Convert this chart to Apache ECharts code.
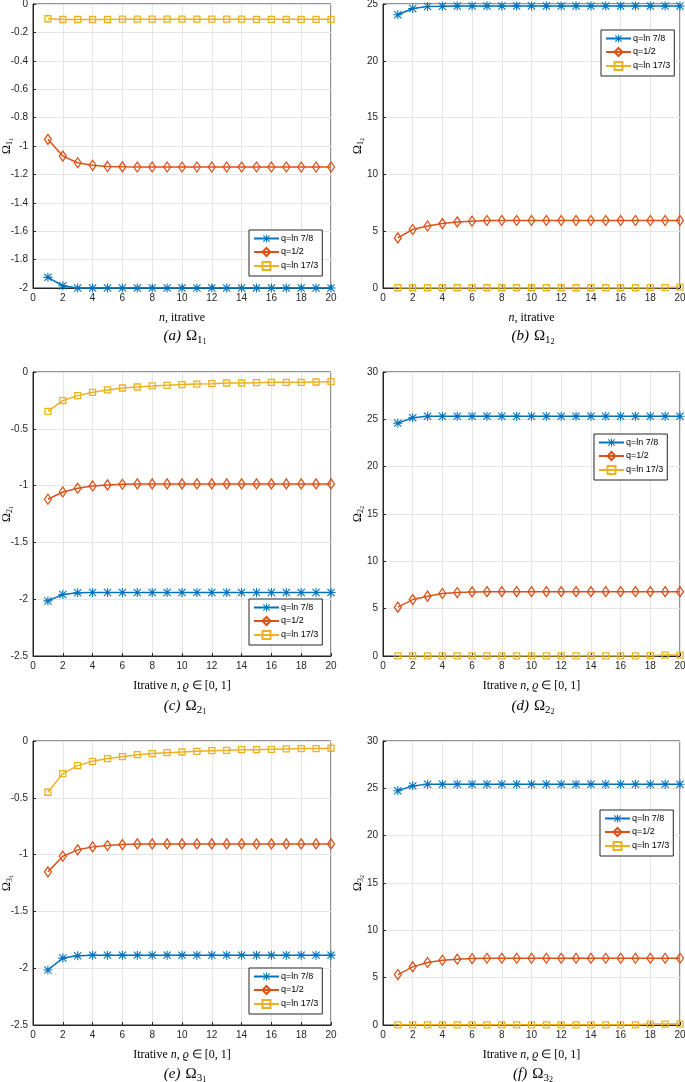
<!DOCTYPE html>
<html><head><meta charset="utf-8">
<script src="https://cdn.jsdelivr.net/npm/echarts@6/dist/echarts.min.js"></script>
<style>html,body{margin:0;padding:0;background:#fff}#c{width:685px;height:1082px}</style>
</head><body><div id="c"></div>
<script>
const iterations = [1,2,3,4,5,6,7,8,9,10,11,12,13,14,15,16,17,18,19,20];
const seriesNames = ['q=ln 7/8','q=1/2','q=ln 17/3'];

// (a) Omega_{1_1}
const a_ln78  = [-1.925,-1.984,-2,-2,-2,-2,-2,-2,-2,-2,-2,-2,-2,-2,-2,-2,-2,-2,-2,-2];
const a_half  = [-0.953,-1.071,-1.118,-1.136,-1.144,-1.147,-1.148,-1.148,-1.148,-1.148,-1.148,-1.148,-1.148,-1.148,-1.148,-1.148,-1.148,-1.148,-1.148,-1.148];
const a_ln173 = [-0.104,-0.109,-0.109,-0.109,-0.109,-0.107,-0.107,-0.107,-0.107,-0.107,-0.107,-0.107,-0.107,-0.107,-0.108,-0.108,-0.108,-0.108,-0.108,-0.108];
// (b) Omega_{1_2}
const b_ln78  = [24.05,24.6,24.78,24.8,24.83,24.83,24.83,24.83,24.83,24.83,24.83,24.83,24.83,24.83,24.83,24.83,24.83,24.83,24.83,24.83];
const b_half  = [4.41,5.15,5.46,5.67,5.82,5.88,5.94,5.94,5.94,5.94,5.94,5.94,5.94,5.94,5.94,5.94,5.94,5.94,5.94,5.94];
const b_ln173 = [0.02,0.02,0.02,0.02,0.02,0.02,0.02,0.02,0.02,0.02,0.02,0.02,0.02,0.02,0.02,0.02,0.02,0.03,0.04,0.07];
// (c) Omega_{2_1}
const c_ln78  = [-2.015,-1.959,-1.944,-1.941,-1.941,-1.941,-1.941,-1.941,-1.941,-1.941,-1.941,-1.941,-1.941,-1.941,-1.941,-1.941,-1.941,-1.941,-1.941,-1.941];
const c_half  = [-1.12,-1.056,-1.023,-1.003,-0.994,-0.988,-0.985,-0.985,-0.985,-0.985,-0.985,-0.985,-0.985,-0.985,-0.985,-0.985,-0.985,-0.985,-0.985,-0.985];
const c_ln173 = [-0.346,-0.252,-0.208,-0.179,-0.158,-0.141,-0.132,-0.123,-0.117,-0.111,-0.106,-0.103,-0.097,-0.097,-0.094,-0.091,-0.091,-0.091,-0.088,-0.085];
// (d) Omega_{2_2}
const d_ln78  = [24.6,25.16,25.33,25.33,25.33,25.33,25.33,25.33,25.33,25.33,25.33,25.33,25.33,25.33,25.33,25.33,25.33,25.33,25.33,25.33];
const d_half  = [5.16,5.96,6.32,6.6,6.7,6.77,6.8,6.8,6.8,6.8,6.8,6.8,6.8,6.8,6.8,6.8,6.8,6.8,6.8,6.8];
const d_ln173 = [0.02,0.02,0.02,0.02,0.02,0.02,0.02,0.02,0.02,0.02,0.02,0.02,0.02,0.02,0.02,0.02,0.02,0.03,0.1,0.1];
// (e) Omega_{3_1}
const e_ln78  = [-2.016,-1.911,-1.89,-1.885,-1.885,-1.885,-1.885,-1.885,-1.885,-1.885,-1.885,-1.885,-1.885,-1.885,-1.885,-1.885,-1.885,-1.885,-1.885,-1.885];
const e_half  = [-1.152,-1.014,-0.958,-0.932,-0.92,-0.912,-0.906,-0.906,-0.906,-0.906,-0.906,-0.906,-0.906,-0.906,-0.906,-0.906,-0.906,-0.906,-0.906,-0.906];
const e_ln173 = [-0.451,-0.287,-0.217,-0.179,-0.155,-0.138,-0.12,-0.111,-0.103,-0.097,-0.091,-0.085,-0.082,-0.076,-0.076,-0.073,-0.07,-0.067,-0.067,-0.064];
// (f) Omega_{3_2}
const f_ln78  = [24.74,25.26,25.44,25.44,25.44,25.44,25.44,25.44,25.44,25.44,25.44,25.44,25.44,25.44,25.44,25.44,25.44,25.44,25.44,25.44];
const f_half  = [5.33,6.14,6.6,6.84,6.95,7.02,7.05,7.05,7.05,7.05,7.05,7.05,7.05,7.05,7.05,7.05,7.05,7.05,7.05,7.05];
const f_ln173 = [0.02,0.02,0.02,0.02,0.02,0.02,0.02,0.02,0.02,0.02,0.02,0.02,0.02,0.02,0.02,0.02,0.02,0.1,0.1,0.1];

const xTicks = {min:0, max:20, interval:2};

const panels = [
  {tag:'a', i:'1', j:'1', data:[a_ln78,a_half,a_ln173], y:{min:-2,max:0,interval:0.2}, xname:'n1'},
  {tag:'b', i:'1', j:'2', data:[b_ln78,b_half,b_ln173], y:{min:0,max:25,interval:5}, xname:'n1'},
  {tag:'c', i:'2', j:'1', data:[c_ln78,c_half,c_ln173], y:{min:-2.5,max:0,interval:0.5}, xname:'n2'},
  {tag:'d', i:'2', j:'2', data:[d_ln78,d_half,d_ln173], y:{min:0,max:30,interval:5}, xname:'n2'},
  {tag:'e', i:'3', j:'1', data:[e_ln78,e_half,e_ln173], y:{min:-2.5,max:0,interval:0.5}, xname:'n2'},
  {tag:'f', i:'3', j:'2', data:[f_ln78,f_half,f_ln173], y:{min:0,max:30,interval:5}, xname:'n2'}
];

// layout (pixels)
const colLeft = [33, 383], colRight = [354, 5];
const rowTop = [4, 372, 741], plotH = 284;
const yNameGap = [19, 18];
const legendPos = {
  a:{left:249,top:230}, b:{left:601,top:30}, c:{left:249,top:599},
  d:{left:594,top:434}, e:{left:249,top:968}, f:{left:600,top:810}
};
const captionY = [337, 707, 1075];
const captionX = [180, 528];

const colors = ['#0072BD','#D95319','#EDB120'];
const asterisk = 'path://M4.4,0L5.6,0L5.6,10L4.4,10Z M0,4.4L10,4.4L10,5.6L0,5.6Z M1.42,0.58L9.42,8.58L8.58,9.42L0.58,1.42Z M0.58,8.58L8.58,0.58L9.42,1.42L1.42,9.42Z';
const symbols = [asterisk, 'diamond', 'rect'];
const symSizes = [9, [7,10], 6];

const serif = 'Liberation Serif';
const sans = 'Liberation Sans';
const tickColor = '#262626';

const richSub = {
  O:{fontFamily:serif,fontSize:12,color:'#000'},
  s:{fontFamily:serif,fontSize:8,color:'#000',verticalAlign:'bottom',padding:[6,0,0,0]},
  ss:{fontFamily:serif,fontSize:6,color:'#000',verticalAlign:'bottom',padding:[9,0,0,0]},
  it:{fontFamily:serif,fontStyle:'italic',fontSize:12,color:'#000'},
  r:{fontFamily:serif,fontSize:12,color:'#000'}
};
const richCap = {
  it:{fontFamily:serif,fontStyle:'italic',fontWeight:'normal',fontSize:15,color:'#000'},
  O:{fontFamily:serif,fontWeight:'normal',fontSize:15,color:'#000'},
  s:{fontFamily:serif,fontWeight:'normal',fontSize:11,color:'#000',verticalAlign:'bottom',padding:[7,0,0,0]},
  ss:{fontFamily:serif,fontWeight:'normal',fontSize:8,color:'#000',verticalAlign:'bottom',padding:[11,0,0,0]}
};

const option = {
  animation:false,
  backgroundColor:'#fff',
  grid:[], xAxis:[], yAxis:[], series:[], legend:[], title:[]
};

panels.forEach((p, k) => {
  const col = k % 2, row = Math.floor(k / 2);
  option.grid.push({
    left: colLeft[col], right: colRight[col], top: rowTop[row], height: plotH,
    containLabel:false, outerBoundsMode:'none',
    show:true, borderColor:'#262626', borderWidth:1, backgroundColor:'#fff'
  });
  const xname = p.xname === 'n1'
    ? '{it|n}{r|, itrative}'
    : '{r|Itrative }{it|n}{r|, }{it|ϱ}{r| ∈ [0, 1]}';
  option.xAxis.push({
    type:'value', gridIndex:k, min:xTicks.min, max:xTicks.max, interval:xTicks.interval,
    name:xname, nameLocation:'middle', nameGap:24, nameMoveOverlap:false,
    nameTextStyle:{rich:richSub},
    axisLine:{show:true,onZero:false,lineStyle:{color:'#262626',width:1}},
    axisTick:{show:true,inside:true,length:3,lineStyle:{color:'#262626'}},
    axisLabel:{fontFamily:sans,fontSize:10,color:tickColor,margin:5},
    splitLine:{show:true,lineStyle:{color:'#e5e5e5',width:1}}
  });
  option.yAxis.push({
    type:'value', gridIndex:k, min:p.y.min, max:p.y.max, interval:p.y.interval,
    name:'{O|Ω}{s|' + p.i + '}{ss|' + p.j + '}', nameLocation:'middle', nameGap:yNameGap[col], nameRotate:90,
    nameMoveOverlap:false,
    nameTextStyle:{rich:richSub},
    axisLine:{show:true,onZero:false,lineStyle:{color:'#262626',width:1}},
    axisTick:{show:true,inside:true,length:3,lineStyle:{color:'#262626'}},
    axisLabel:{fontFamily:sans,fontSize:10,color:tickColor,margin:5},
    splitLine:{show:true,lineStyle:{color:'#e5e5e5',width:1}}
  });
  p.data.forEach((vals, s) => {
    option.series.push({
      type:'line', name:seriesNames[s], xAxisIndex:k, yAxisIndex:k,
      data: iterations.map((x, idx) => [x, vals[idx]]),
      symbol:symbols[s], symbolSize:symSizes[s], showAllSymbol:true, clip:false,
      lineStyle:{color:colors[s],width:1.5},
      itemStyle: s===0
        ? {color:colors[s], borderWidth:0}
        : {color:'rgba(255,255,255,0)', borderColor:colors[s], borderWidth:1.3},
      z: 3 + s
    });
  });
  option.legend.push({
    data:seriesNames, orient:'vertical',
    left:legendPos[p.tag].left, top:legendPos[p.tag].top,
    backgroundColor:'#fff', borderColor:'#262626', borderWidth:1,
    padding:[4,4,5,4], itemGap:4, itemWidth:25, itemHeight:10,
    textStyle:{fontFamily:sans,fontSize:9,color:'#000',padding:[0,0,0,-3]},
    selectedMode:false
  });
  option.title.push({
    text:'{it|(' + p.tag + ')} {O|Ω}{s|' + p.i + '}{ss|' + p.j + '}',
    left:captionX[col], top:captionY[row]-15, textAlign:'center',
    textStyle:{fontWeight:'normal',rich:richCap}
  });
});

const chart = echarts.init(document.getElementById('c'), null, {renderer:'canvas'});
chart.setOption(option);
</script></body></html>
